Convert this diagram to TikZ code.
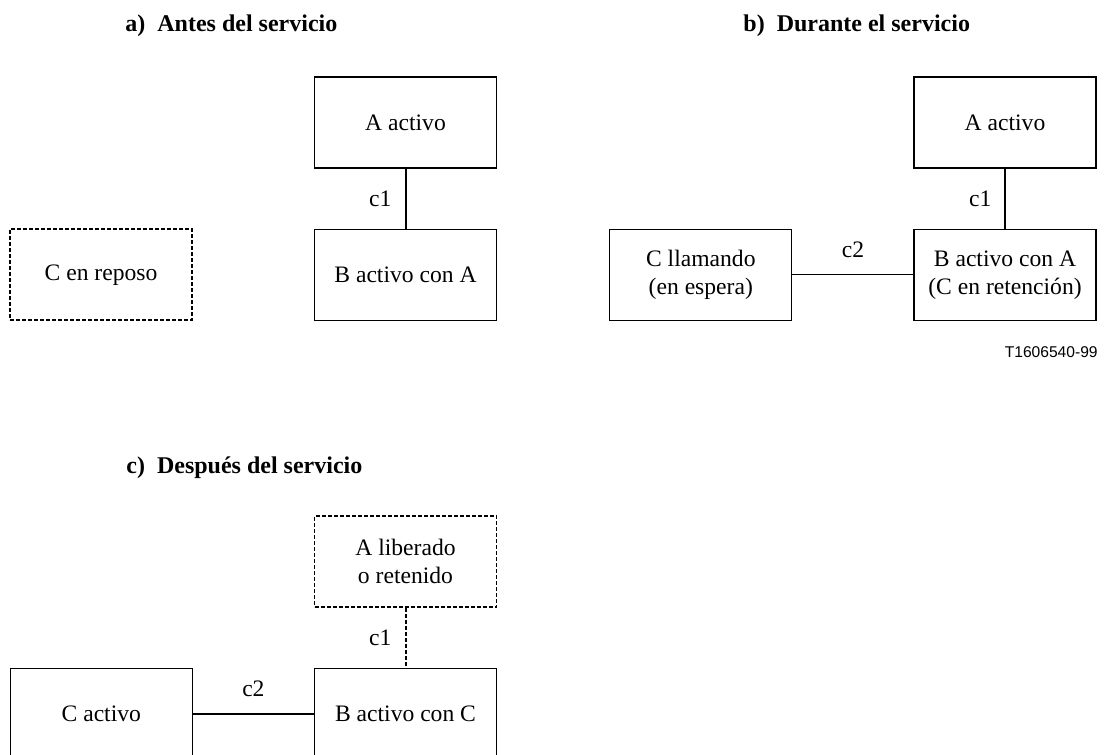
\documentclass[tikz,border=0pt]{standalone}
\usepackage{fontspec}
\setmainfont{Liberation Serif}
\newfontfamily\etiqfont{Liberation Sans}
\usetikzlibrary{positioning}
\tikzset{
    estado/.style={rectangle, draw, line width=0.6pt, minimum width=91pt, minimum height=45.5pt, inner sep=0pt, align=center, font=\fontsize{11.8}{14}\selectfont},
    reposo/.style={estado, line width=0.9pt, dash pattern=on 2pt off 1pt},
    titulo/.style={font=\fontsize{12}{14}\selectfont\bfseries, inner sep=0pt},
    enlace/.style={line width=0.6pt},
    enlacefuerte/.style={line width=1pt},
    rotulo/.style={font=\fontsize{11.8}{14}\selectfont, inner sep=0pt}
}

\begin{document}
\begin{tikzpicture}[x=0.5pt, y=-0.5pt, node distance=30pt and 60.5pt]
            \useasboundingbox (0,0) rectangle (1106,754);
            % a) Antes del servicio
            \node (titA) [titulo, anchor=west] at (125,26) {a)~~Antes del servicio};
            \node (aA) [estado] at (405.5,122.5) {A activo};
            \node (aB) [estado, below=of aA] {B activo con A};
            \node (aC) [reposo, left=of aB] {C en reposo};
            \draw[enlacefuerte] (aA) -- node[rotulo, left=6.5pt] {c1} (aB);

            % b) Durante el servicio
            \node (titB) [titulo, anchor=west] at (743,26) {b)~~Durante el servicio};
            \node (bA) [estado] at (1005,122.5) {A activo};
            \node (bB) [estado, below=of bA] {B activo con A\\(C en retención)};
            \node (bC) [estado, left=of bB] {C llamando\\(en espera)};
            \draw[enlace] (bA) -- node[rotulo, left=6.5pt] {c1} (bB);
            \draw[enlace] (bC) -- node[rotulo, above=8pt] {c2} (bB);
            \node (ref) [font=\etiqfont\fontsize{7.8}{9}\selectfont, inner sep=0pt, anchor=east] at (1098,352) {T1606540-99};

            % c) Después del servicio
            \node (titC) [titulo, anchor=west] at (126,468) {c)~~Después del servicio};
            \node (cA) [reposo] at (405.5,561.5) {A liberado\\o retenido};
            \node (cB) [estado, below=of cA] {B activo con C};
            \node (cC) [estado, left=of cB] {C activo};
            \draw[enlacefuerte, dash pattern=on 2pt off 1pt] (cA) -- node[rotulo, left=6.5pt] {c1} (cB);
            \draw[enlacefuerte] (cC) -- node[rotulo, above=8pt] {c2} (cB);
        \end{tikzpicture}
\end{document}
